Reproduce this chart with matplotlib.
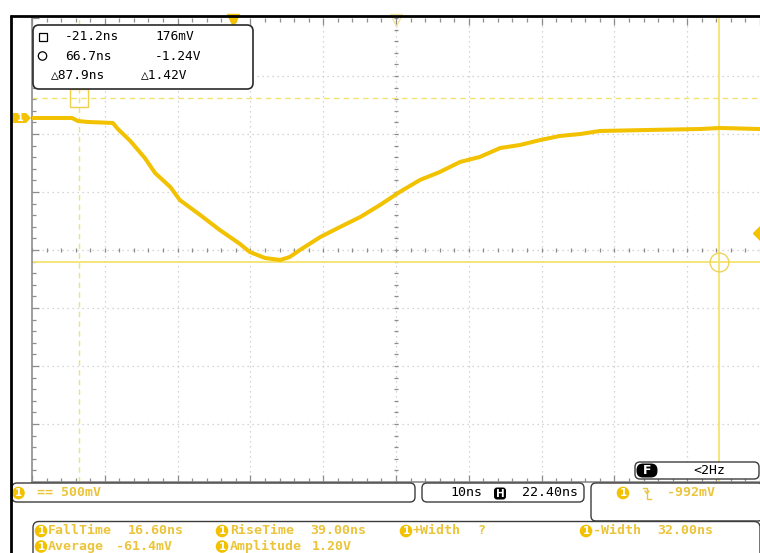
import matplotlib
matplotlib.use("Agg")
import matplotlib.pyplot as plt
from matplotlib.patches import FancyBboxPatch, Polygon, Circle
import matplotlib.transforms as mtransforms

time_ns = [-27.6, -22.1, -21.3, -20.0, -16.5, -15.8, -14.1, -12.1, -10.7, -8.6, -7.3,
           -4.5, -1.8, 0.97, 2.3, 4.4, 6.5, 7.8, 9.2, 12.0, 14.7, 17.5, 20.2, 22.9,
           25.7, 28.4, 31.2, 33.9, 36.7, 39.4, 42.2, 44.9, 47.7, 50.4, 57.3, 64.2, 66.9, 72.4]
volt_v = [0.0, 0.0, -0.026, -0.034, -0.043, -0.095, -0.198, -0.345, -0.474, -0.595, -0.707,
          -0.836, -0.966, -1.086, -1.155, -1.207, -1.224, -1.198, -1.138, -1.026, -0.940, -0.853, -0.750, -0.638,
          -0.534, -0.466, -0.379, -0.336, -0.259, -0.233, -0.190, -0.155, -0.138, -0.112, -0.103, -0.095, -0.086, -0.095]

time_per_div_ns = 10.0
volt_per_div = 0.5
h_position_ns = 22.40
screen_center_v = -1.138
trigger_level_v = -0.992

cursor_a = [-21.2, 0.176]     # square cursor (ns, V)
cursor_b = [66.7, -1.24]      # circle cursor (ns, V)

readout_time = ["-21.2ns", "66.7ns", "\u25b387.9ns"]
readout_volt = ["176mV", "-1.24V", "\u25b31.42V"]

ch1_scale_label = "== 500mV"
timebase_label = "10ns"
hpos_label = "22.40ns"
trig_label = "-992mV"
freq_label = "<2Hz"

meas_names = ["FallTime", "RiseTime", "+Width", "-Width", "Average", "Amplitude"]
meas_values = ["16.60ns", "39.00ns", "?", "32.00ns", "-61.4mV", "1.20V"]

# ---------------- styles ----------------
YEL = "#F2C200"
TXT_YEL = "#EBC43A"
CUR_YEL = "#F3E370"
GRID = "#c8c8c8"
TICK = "#8c8c8c"
MONO = "DejaVu Sans Mono"

W, H = 760, 553
AX_L, AX_R, AX_T, AX_B = 32, 760, 18, 482

fig = plt.figure(figsize=(W / 100, H / 100), dpi=100, facecolor="white")
ax = fig.add_axes([AX_L / W, (H - AX_B) / H, (AX_R - AX_L) / W, (AX_B - AX_T) / H])
x0 = h_position_ns - 5 * time_per_div_ns
x1 = h_position_ns + 5 * time_per_div_ns
y0 = screen_center_v - 4 * volt_per_div
y1 = screen_center_v + 4 * volt_per_div
ax.set_xlim(x0, x1)
ax.set_ylim(y0, y1)

# graticule
for k in range(1, 10):
    ax.axvline(x0 + k * time_per_div_ns, color=GRID, lw=0.9, ls=(0, (1, 3)), zorder=1)
for j in range(1, 8):
    ax.axhline(y0 + j * volt_per_div, color=GRID, lw=0.9, ls=(0, (1, 3)), zorder=1)
mx = [x0 + i * time_per_div_ns / 5 for i in range(51)]
my = [y0 + i * volt_per_div / 5 for i in range(41)]
ax.plot(mx, [screen_center_v] * len(mx), ls="none", marker="|", ms=3, mew=0.9, color=TICK, zorder=1)
ax.plot([h_position_ns] * len(my), my, ls="none", marker="_", ms=3, mew=0.9, color=TICK, zorder=1)

ax.set_xticks([x0 + k * time_per_div_ns for k in range(11)])
ax.set_xticks(mx, minor=True)
ax.set_yticks([y0 + j * volt_per_div for j in range(9)])
ax.set_yticks(my, minor=True)
ax.tick_params(which="both", direction="in", top=True, bottom=True, left=True, right=False,
               labelbottom=False, labelleft=False, color=TICK, width=0.9)
ax.tick_params(which="major", length=5)
ax.tick_params(which="minor", length=3)
for s in ["left", "bottom"]:
    ax.spines[s].set_color(TICK)
    ax.spines[s].set_linewidth(1.2)
ax.spines["top"].set_visible(False)
ax.spines["right"].set_visible(False)

# cursors
ax.axhline(cursor_a[1], color=CUR_YEL, lw=1.0, ls=(0, (4, 3)), zorder=2)
ax.axvline(cursor_a[0], color=CUR_YEL, lw=1.0, ls=(0, (4, 3)), zorder=2)
ax.axhline(cursor_b[1], color=CUR_YEL, lw=1.3, zorder=2)
ax.axvline(cursor_b[0], color=CUR_YEL, lw=1.3, zorder=2)
ax.plot([cursor_a[0]], [cursor_a[1]], marker="s", ms=13.5, mfc="none", mec="#F0CF4A", mew=1.0, zorder=4)
ax.plot([cursor_b[0]], [cursor_b[1]], marker="o", ms=13.5, mfc="none", mec="#EFD35A", mew=1.0, zorder=4)

# trace
ax.plot(time_ns, volt_v, color=YEL, lw=2.9, solid_joinstyle="round", zorder=3)

# trigger markers
bx = mtransforms.blended_transform_factory(ax.transData, ax.transAxes)
by = mtransforms.blended_transform_factory(ax.transAxes, ax.transData)
ax.plot([0.0], [0.9965], transform=bx, marker="v", ms=8, color="#F5C200", clip_on=False, zorder=6)
ax.plot([h_position_ns], [0.9965], transform=bx, marker="v", ms=9, mfc="none", mec="#F2E4A4",
        mew=1.0, clip_on=False, zorder=6)
ax.plot([1.0015], [trigger_level_v], transform=by, marker="D", ms=8, color="#F5C200", clip_on=False, zorder=6)

# channel 1 ground tag
dv = 5 / 58 * volt_per_div
tag = Polygon([(-0.0261, dv), (-0.0082, dv), (-0.0014, 0), (-0.0082, -dv), (-0.0261, -dv)],
              closed=True, transform=by, fc="#F5C200", ec="none", clip_on=False, zorder=6)
ax.add_patch(tag)
ax.text(-0.0165, 0.0, "1", transform=by, color="white", fontsize=7, fontweight="bold",
        ha="center", va="center", clip_on=False, zorder=7)

# ---------------- overlay in pixel coordinates ----------------
ov = fig.add_axes([0, 0, 1, 1], zorder=5)
ov.set_xlim(0, W)
ov.set_ylim(H, 0)
ov.axis("off")
ov.patch.set_alpha(0)


def box(x, y, w, h, r=5, ec="#3c3c3c", fc="white", lw=1.0):
    ov.add_patch(FancyBboxPatch((x, y), w, h, boxstyle=f"round,pad=0,rounding_size={r}",
                                fc=fc, ec=ec, lw=lw))


def ch_icon(x, y, r=6.3):
    ov.add_patch(Circle((x, y), r, fc=YEL, ec="none"))
    ov.text(x, y + 0.5, "1", color="white", fontsize=7.5, fontweight="bold", ha="center", va="center")


def mono(x, y, s, color="black", size=9.5, ha="left", weight="normal"):
    ov.text(x, y, s, family=MONO, fontsize=size, color=color, ha=ha, va="center", fontweight=weight)


# frame lines
ov.plot([10, 760], [15.5, 15.5], color="black", lw=2.0, solid_capstyle="butt")
ov.plot([11, 11], [14.5, 553], color="black", lw=2.0, solid_capstyle="butt")

# cursor readout box
box(33, 25, 220, 64, r=6, ec="#2a2a2a", lw=1.2)
ov.add_patch(plt.Rectangle((38.5, 33), 8, 8, fc="none", ec="black", lw=0.9))
ov.add_patch(Circle((42.5, 56), 4.2, fc="none", ec="black", lw=0.9))
rows_y = [37, 56, 75]
mono(65, rows_y[0], readout_time[0], size=9.3)
mono(155, rows_y[0], readout_volt[0], size=9.3)
mono(65, rows_y[1], readout_time[1], size=9.3)
mono(155, rows_y[1], readout_volt[1], size=9.3)
mono(51, rows_y[2], readout_time[2], size=9.3)
mono(141, rows_y[2], readout_volt[2], size=9.3)

# status bar
box(12, 483, 403, 19)
ch_icon(18.5, 493)
mono(37, 493, ch1_scale_label, color=TXT_YEL, weight="bold")

box(422, 483, 162, 19)
mono(450, 493, timebase_label)
ov.add_patch(FancyBboxPatch((494, 487.5), 12, 12, boxstyle="round,pad=0,rounding_size=3", fc="black", ec="none"))
ov.text(500, 494, "H", color="white", fontsize=7.5, fontweight="bold", ha="center", va="center")
mono(522, 493, hpos_label)

box(591, 483, 172, 38)
ch_icon(623, 493)
ov.plot([643, 647, 647, 651], [487.5, 487.5, 498.5, 498.5], color=TXT_YEL, lw=1.0)
ov.plot([645, 647, 649], [491, 493.5, 491], color=TXT_YEL, lw=1.0)
mono(667, 493, trig_label, color=TXT_YEL, weight="bold")

box(635, 462, 124, 17)
ov.add_patch(FancyBboxPatch((636.5, 463.5), 21, 14, boxstyle="round,pad=0,rounding_size=6.5", fc="black", ec="none"))
ov.text(647, 470.8, "F", color="white", fontsize=9, fontweight="bold", ha="center", va="center")
mono(709, 470.5, freq_label, ha="center")

# measurement panel
box(33, 521.5, 727, 45, r=6)
icon_x = [41, 222, 406, 586, 41, 222]
name_x = [48, 230, 413, 593, 48, 230]
val_x = [128, 310, 477, 657, 116, 312]
row_y = [531, 531, 531, 531, 546.5, 546.5]
for ix, nx, vx, ry, nm, vv in zip(icon_x, name_x, val_x, row_y, meas_names, meas_values):
    ch_icon(ix, ry)
    mono(nx, ry, nm, color=TXT_YEL, weight="bold")
    mono(vx, ry, vv, color=TXT_YEL, weight="bold")

fig.savefig("out.png", dpi=100, facecolor="white")
